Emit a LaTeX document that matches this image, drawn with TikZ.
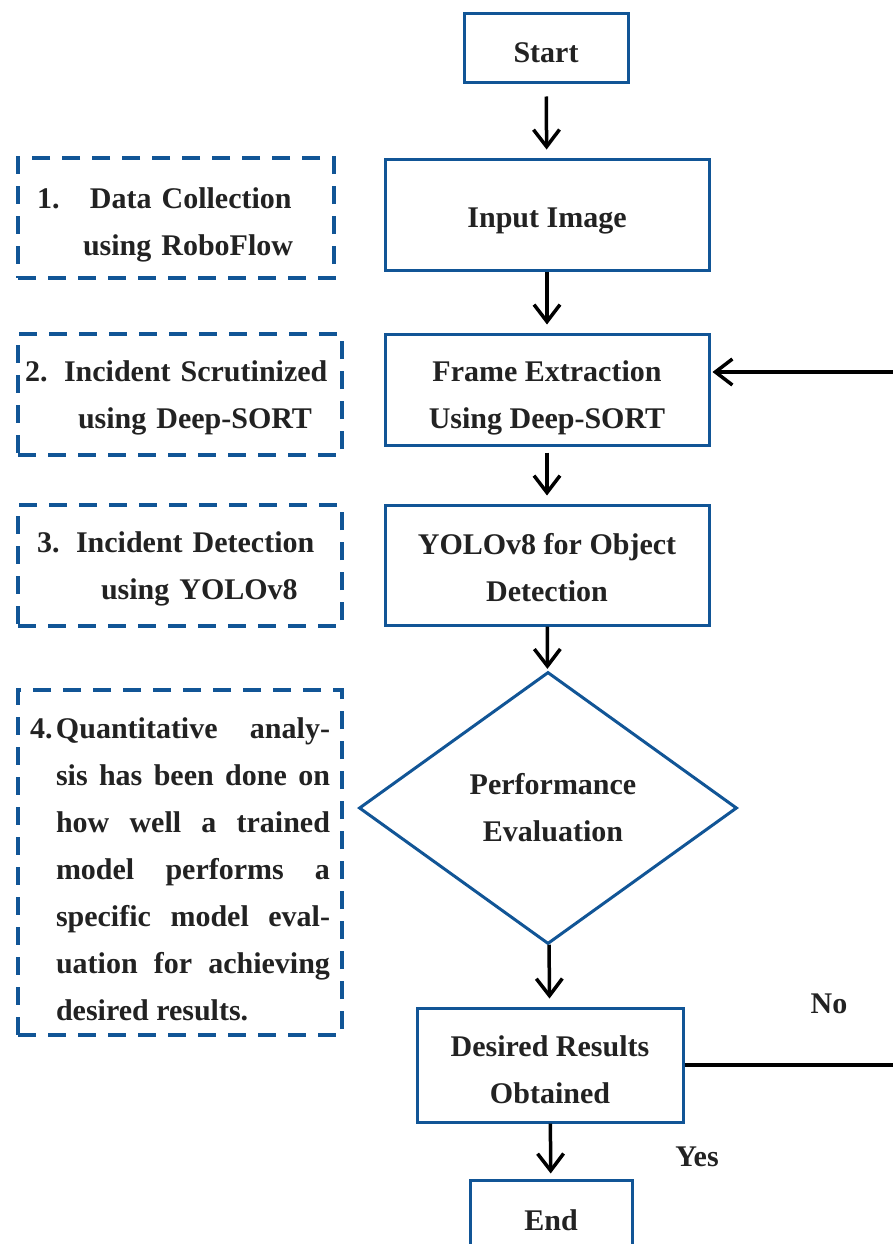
\documentclass[tikz,border=0pt]{standalone}
\usepackage{fontspec}
\setmainfont{Liberation Serif}
\usetikzlibrary{arrows.meta,shapes.geometric}
\definecolor{boxblue}{RGB}{17,85,150}
\definecolor{txtgray}{RGB}{34,34,34}
\newcommand{\dropline}[1]{\rule{0pt}{#1}} % 一行目を少し下げる

\begin{document}
\begin{tikzpicture}[
    x=1pt, y=-1pt,
    >={Straight Barb[length=17pt,width=26pt]}, % 矢印のスタイル
    every node/.style={font=\fontsize{30}{47}\selectfont\bfseries, text=txtgray},
    procbox/.style={draw=boxblue, line width=3pt, align=center, inner sep=0pt},
    notebox/.style={draw=boxblue, line width=3.5pt, dash pattern=on 18pt off 12pt, align=left, inner sep=0pt},
    flow/.style={->, line width=3.5pt, black, shorten >=8pt},
    ]

    \useasboundingbox (0,0) rectangle (892,1244);

    % --- 処理の流れ ---
    \node[procbox, minimum width=164pt, minimum height=69pt] (start) at (546,48.5) {\dropline{29pt}Start};
    \node[procbox, minimum width=324pt, minimum height=111pt] (input) at (547,214.5) {\dropline{33pt}Input Image};
    \node[procbox, minimum width=324pt, minimum height=111pt] (frame) at (547,389.5) {\dropline{37pt}Frame Extraction\\Using Deep-SORT};
    \node[procbox, minimum width=324pt, minimum height=120pt] (yolo) at (547,565) {\dropline{27pt}YOLOv8 for Object\\Detection};
    \node[procbox, diamond, aspect=1.39, minimum width=378pt, minimum height=272pt] (perf) at (548,808) {\hspace*{10pt}Performance\\\hspace*{10pt}Evaluation};
    \node[procbox, minimum width=266pt, minimum height=114pt] (des) at (550,1065) {\dropline{31pt}Desired Results\\Obtained};
    \node[procbox, minimum width=162pt, minimum height=80pt] (end) at (551,1220) {End};

    % --- 説明ボックス(破線) ---
    \node[notebox, minimum width=316pt, minimum height=120pt, text width=278pt] (note1) at (176,218)
        {\dropline{35pt}\makebox[53pt][l]{1.}Data Collection\\\hspace*{46pt}using RoboFlow};
    \node[notebox, minimum width=324pt, minimum height=121pt, text width=310pt] (note2) at (180,394.5)
        {\dropline{27pt}\makebox[39pt][l]{2.}Incident Scrutinized\\\hspace*{53pt}using Deep-SORT};
    \node[notebox, minimum width=324pt, minimum height=121pt, text width=286pt] (note3) at (180,565.5)
        {\dropline{27pt}\makebox[39pt][l]{3.}Incident Detection\\\hspace*{64pt}using YOLOv8};
    \node[notebox, minimum width=324pt, minimum height=345pt, text width=300pt, align=justify] (note4) at (180,862.5)
        {\hangindent=26pt\hangafter=1\noindent\dropline{34pt}\makebox[26pt][l]{4.}Quantitative analy-\linebreak
         sis has been done on\linebreak how well a trained\linebreak model performs a\linebreak
         specific model eval-\linebreak uation for achieving\linebreak desired results.\par};

    % --- 分岐のラベル ---
    \node (lblno) at (829,1004) {No};
    \node (lblyes) at (697,1157) {Yes};

    % --- 矢印 ---
    \draw[flow, shorten <=12pt] (start) -- (input);
    \draw[flow] (input) -- (frame);
    \draw[flow, shorten <=6pt] (frame) -- (yolo);
    \draw[flow, shorten >=2pt] (yolo) -- (perf);
    \draw[flow] (perf) -- (des);
    \draw[flow, shorten >=5pt] (des) -- (end);

    % 戻りの矢印(右端の外を回る)
    \coordinate (fbbot) at (906,1065);
    \coordinate (fbtop) at (906,372);
    \draw[flow, shorten >=2pt] (des.east) -- (fbbot) -- (fbtop) -- (fbtop -| frame.east);

\end{tikzpicture}
\end{document}
